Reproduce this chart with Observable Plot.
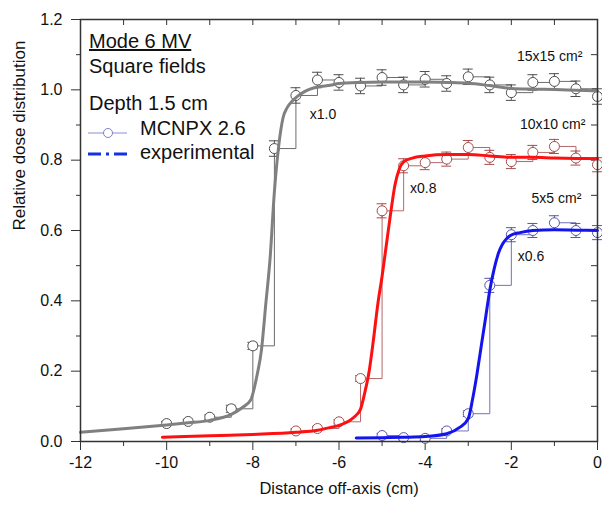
<!DOCTYPE html>
<html><head><meta charset="utf-8">
<script src="https://cdn.jsdelivr.net/npm/d3@7"></script>
<script src="https://cdn.jsdelivr.net/npm/@observablehq/plot@0.6"></script>
<style>
body{margin:0;background:#fff;}
#wrap{position:relative;width:602px;height:507px;font-family:"Liberation Sans",Arial,sans-serif;}
.lg{position:absolute;font-size:20px;line-height:24px;color:#111;white-space:nowrap;}
.sym{position:absolute;}
</style></head><body><div id="wrap"></div>
<script>
// ---- MCNPX 2.6 (simulation) series ----
const f15X = [-10,-9.5,-9,-8.5,-8,-7.5,-7,-6.5,-6,-5.5,-5,-4.5,-4,-3.5,-3,-2.5,-2,-1.5,-1,-0.5,0];
const f15Y = [0.051,0.057,0.069,0.093,0.272,0.833,0.984,1.028,1.021,1.011,1.035,1.014,1.030,1.018,1.037,1.014,0.992,1.021,1.024,1.003,0.981];
const f15E = [0.006,0.006,0.007,0.010,0.010,0.022,0.022,0.022,0.022,0.022,0.022,0.022,0.022,0.022,0.022,0.022,0.022,0.022,0.022,0.022,0.022];

const f10X = [-7,-6.5,-6,-5.5,-5,-4.5,-4,-3.5,-3,-2.5,-2,-1.5,-1,-0.5,0];
const f10Y = [0.030,0.037,0.056,0.179,0.656,0.784,0.793,0.803,0.836,0.808,0.796,0.822,0.839,0.806,0.787];
const f10E = [0.006,0.006,0.006,0.008,0.020,0.020,0.020,0.020,0.020,0.020,0.020,0.020,0.020,0.020,0.020];

const f5X = [-5,-4.5,-4,-3.5,-3,-2.5,-2,-1.5,-1,-0.5,0];
const f5Y = [0.017,0.011,0.009,0.030,0.079,0.444,0.588,0.600,0.622,0.600,0.594];
const f5E = [0.006,0.006,0.006,0.006,0.008,0.020,0.020,0.020,0.020,0.020,0.020];

// ---- experimental profiles ----
const e15X = [-12,-11,-10,-9.5,-9,-8.5,-8.25,-8.05,-7.9,-7.8,-7.7,-7.6,-7.5,-7.4,-7.3,-7.2,-7.1,-7.0,-6.8,-6.5,-6.2,-6,-5.5,-5,-4.5,-4,-3.5,-3,-2.5,-2,-1.5,-1,-0.5,0];
const e15Y = [0.026,0.036,0.047,0.053,0.060,0.077,0.096,0.118,0.19,0.26,0.39,0.52,0.71,0.84,0.92,0.95,0.966,0.978,0.995,1.008,1.013,1.018,1.021,1.022,1.022,1.022,1.021,1.019,1.012,1.004,1.002,1.001,0.999,0.997];

const e10X = [-10.1,-9,-8,-7,-6.5,-6.2,-6,-5.75,-5.6,-5.5,-5.4,-5.3,-5.2,-5.1,-5.0,-4.9,-4.8,-4.7,-4.6,-4.5,-4.3,-4,-3.5,-3,-2.5,-2,-1.5,-1,-0.5,0];
const e10Y = [0.012,0.016,0.020,0.026,0.032,0.040,0.046,0.060,0.075,0.092,0.14,0.20,0.29,0.39,0.47,0.56,0.65,0.73,0.775,0.795,0.806,0.812,0.816,0.816,0.812,0.808,0.808,0.806,0.805,0.804];

const e5X = [-5.6,-5,-4.5,-4,-3.5,-3.2,-3.0,-2.9,-2.8,-2.7,-2.6,-2.5,-2.4,-2.3,-2.2,-2.1,-2.0,-1.8,-1.5,-1,-0.5,0];
const e5Y = [0.010,0.011,0.012,0.014,0.022,0.040,0.065,0.12,0.19,0.27,0.35,0.43,0.49,0.535,0.562,0.578,0.587,0.594,0.600,0.602,0.601,0.600];

// ---- axis ticks ----
const xMajor = [-12,-10,-8,-6,-4,-2,0];
const xMinor = [-11,-9,-7,-5,-3,-1];
const yMajor = [0,0.2,0.4,0.6,0.8,1.0,1.2];
const yMinor = [0.1,0.3,0.5,0.7,0.9,1.1];

// ---- annotations ----
const labelText = ["15x15 cm²","10x10 cm²","5x5 cm²","x1.0","x0.8","x0.6"];
const labelX = [-1.87,-1.80,-1.53,-6.68,-4.35,-1.85];
const labelY = [1.096,0.901,0.69,0.93,0.72,0.526];

const zip = (xs, ys, es) => xs.map((x, i) => ({x, y: ys[i], e: es ? es[i] : 0}));
const mc = [
  {data: zip(f15X, f15Y, f15E), mark: "#4f4f4f", step: "#6c6c6c"},
  {data: zip(f10X, f10Y, f10E), mark: "#a64c4c", step: "#b46868"},
  {data: zip(f5X, f5Y, f5E), mark: "#5656a8", step: "#7272ba"}
];
const ex = [
  {data: zip(e15X, e15Y), color: "#808080"},
  {data: zip(e10X, e10Y), color: "#ff1010"},
  {data: zip(e5X, e5Y), color: "#1414ee"}
];
const cap = 0.115;
const W = 602, H = 507, mL = 80, mR = 5, mT = 19, mB = 66;
const pw = W - mL - mR, ph = H - mT - mB;

const marks = [];
for (const s of mc) {
  marks.push(Plot.line(s.data, {x: "x", y: "y", curve: "step-after", stroke: s.step, strokeWidth: 1}));
  marks.push(Plot.ruleX(s.data, {x: "x", y1: d => d.y - d.e, y2: d => d.y + d.e, stroke: s.mark, strokeWidth: 1}));
  marks.push(Plot.ruleY(s.data, {y: d => d.y + d.e, x1: d => d.x - cap, x2: d => d.x + cap, stroke: s.mark, strokeWidth: 1}));
  marks.push(Plot.ruleY(s.data, {y: d => d.y - d.e, x1: d => d.x - cap, x2: d => d.x + cap, stroke: s.mark, strokeWidth: 1}));
  marks.push(Plot.dot(s.data, {x: "x", y: "y", r: 5, fill: "white", stroke: s.mark, strokeWidth: 1}));
}
for (const s of ex) {
  marks.push(Plot.line(s.data, {x: "x", y: "y", curve: "monotone-x", stroke: s.color, strokeWidth: 3}));
}

const chart = Plot.plot({
  width: W, height: H,
  marginLeft: mL, marginRight: mR, marginTop: mT, marginBottom: mB,
  x: {domain: [-12, 0]},
  y: {domain: [0, 1.2]},
  style: {fontFamily: "'Liberation Sans', Arial, sans-serif", fontSize: "16px", color: "#111", background: "white", overflow: "visible"},
  marks: [
    Plot.axisX({ticks: xMajor, tickSize: 9, tickPadding: 6, tickFormat: d => String(d), label: null, stroke: "#333"}),
    Plot.axisX({ticks: xMinor, tickSize: 5, tickFormat: () => "", label: null, stroke: "#333"}),
    Plot.axisY({ticks: yMajor, tickSize: 9, tickPadding: 9, tickFormat: d => d.toFixed(1), label: null, stroke: "#333"}),
    Plot.axisY({ticks: yMinor, tickSize: 4, tickFormat: () => "", label: null, stroke: "#333"}),
    Plot.ruleX(d3.range(-11, 0), {x: d => d, insetBottom: ph - 6, stroke: "#333"}),
    Plot.ruleY(d3.range(1, 12).map(d => d / 10), {y: d => d, insetLeft: pw - 6, stroke: "#333"}),
    ...marks,
    Plot.text(labelText, {x: (d, i) => labelX[i], y: (d, i) => labelY[i], text: d => d, textAnchor: "start", fontSize: 14}),
    Plot.text(["Distance off-axis (cm)"], {frameAnchor: "bottom", dy: 52, fontSize: 16.5}),
    Plot.text(["Relative dose distribution"], {frameAnchor: "left", dx: -61, rotate: -90, fontSize: 17}),
    Plot.frame({stroke: "#333", strokeWidth: 1.5})
  ]
});
const wrap = document.getElementById("wrap");
wrap.appendChild(chart);

// legend / header block (HTML overlay)
const legendLines = [
  {text: "Mode 6 MV", left: 89, top: 29, underline: true},
  {text: "Square fields", left: 89, top: 54},
  {text: "Depth 1.5 cm", left: 89, top: 91},
  {text: "MCNPX 2.6", left: 140, top: 116},
  {text: "experimental", left: 140, top: 140}
];
for (const l of legendLines) {
  const d = document.createElement("div");
  d.className = "lg";
  d.style.left = l.left + "px";
  d.style.top = l.top + "px";
  if (l.underline) d.style.textDecoration = "underline";
  d.textContent = l.text;
  wrap.appendChild(d);
}
const sym1 = document.createElement("div");
sym1.className = "sym";
sym1.style.left = "88px"; sym1.style.top = "125px";
sym1.innerHTML = '<svg width="40" height="16"><line x1="0" y1="8" x2="39" y2="8" stroke="#8c8cd0" stroke-width="1"/><circle cx="20" cy="8" r="4.5" fill="white" stroke="#8080c8" stroke-width="1"/></svg>';
wrap.appendChild(sym1);
const sym2 = document.createElement("div");
sym2.className = "sym";
sym2.style.left = "88px"; sym2.style.top = "146px";
sym2.innerHTML = '<svg width="40" height="16"><line x1="0" y1="8" x2="39" y2="8" stroke="#1530e6" stroke-width="3" stroke-dasharray="13 5 3 5"/></svg>';
wrap.appendChild(sym2);
</script>
</body></html>
